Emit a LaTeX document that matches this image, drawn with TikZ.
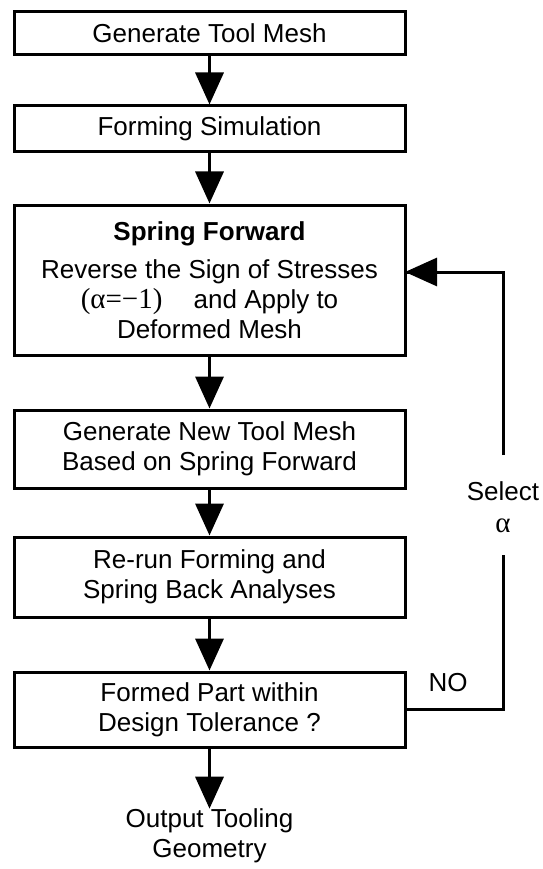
\documentclass[tikz,border=0pt]{standalone}
\usepackage{fontspec}
\setmainfont{Liberation Sans}
\newfontfamily\greekrm{Liberation Serif}
\usetikzlibrary{positioning,arrows.meta}
\tikzset{
  stage/.style ={draw, line width=3pt, minimum width=391pt, inner sep=0pt, align=center},
  flow/.style  ={-{Triangle[length=32pt,width=28pt]}, line width=3.5pt},
  wire/.style  ={line width=3pt},
  tag/.style   ={inner sep=0pt, align=center},
}

\begin{document}
\begin{tikzpicture}[x=1pt,y=-1pt, every node/.style={font=\fontsize{26}{30}\selectfont}]
  \useasboundingbox (0,0) rectangle (542,869);
  \node[stage, minimum height=43pt] (mesh) at (209.5,33.5) {Generate Tool Mesh};
  \node[stage, minimum height=46pt] (form) at (209.5,129) {Forming Simulation};
  \node[stage, minimum height=150pt] (sprfwd) at (209.5,280)
    {\textbf{Spring Forward}\\[8pt]
     Reverse the Sign of Stresses\\
     {\greekrm\fontsize{29}{30}\selectfont(α=−1)}\hspace{1.2em}and Apply to\\
     Deformed Mesh};
  \node[stage, minimum height=78pt] (newmesh) at (209.5,449)
    {Generate New Tool Mesh\\Based on Spring Forward};
  \node[stage, minimum height=80pt] (rerun) at (209.5,577)
    {Re-run Forming and\\Spring Back Analyses};
  \node[stage, minimum height=75pt] (check) at (209.5,709.5)
    {Formed Part within\\Design Tolerance ?};
  \node[tag] (outgeo) at (209.5,836) {Output Tooling\\Geometry};
  \node[tag] (select) at (503,507) {Select\\[2pt]{\greekrm\fontsize{29}{30}\selectfont α}};
  \node[tag] (no) at (448,683) {NO};
  \coordinate (gaptop) at (503,455);
  \coordinate (gapbot) at (503,555);
  \coordinate (fbin) at (405,272);

  \draw[flow] (mesh) -- (form);
  \draw[flow] (form) -- (sprfwd);
  \draw[flow] (sprfwd) -- (newmesh);
  \draw[flow] (newmesh) -- (rerun);
  \draw[flow] (rerun) -- (check);
  \draw[flow] (check) -- (outgeo);
  % loop back
  \draw[wire] (check.east) -| (gapbot);
  \draw[wire] (gaptop) |- (fbin);
  \draw[flow, line width=3pt] (fbin -| gaptop) ++(-2,0) -- (fbin);
\end{tikzpicture}
\end{document}
